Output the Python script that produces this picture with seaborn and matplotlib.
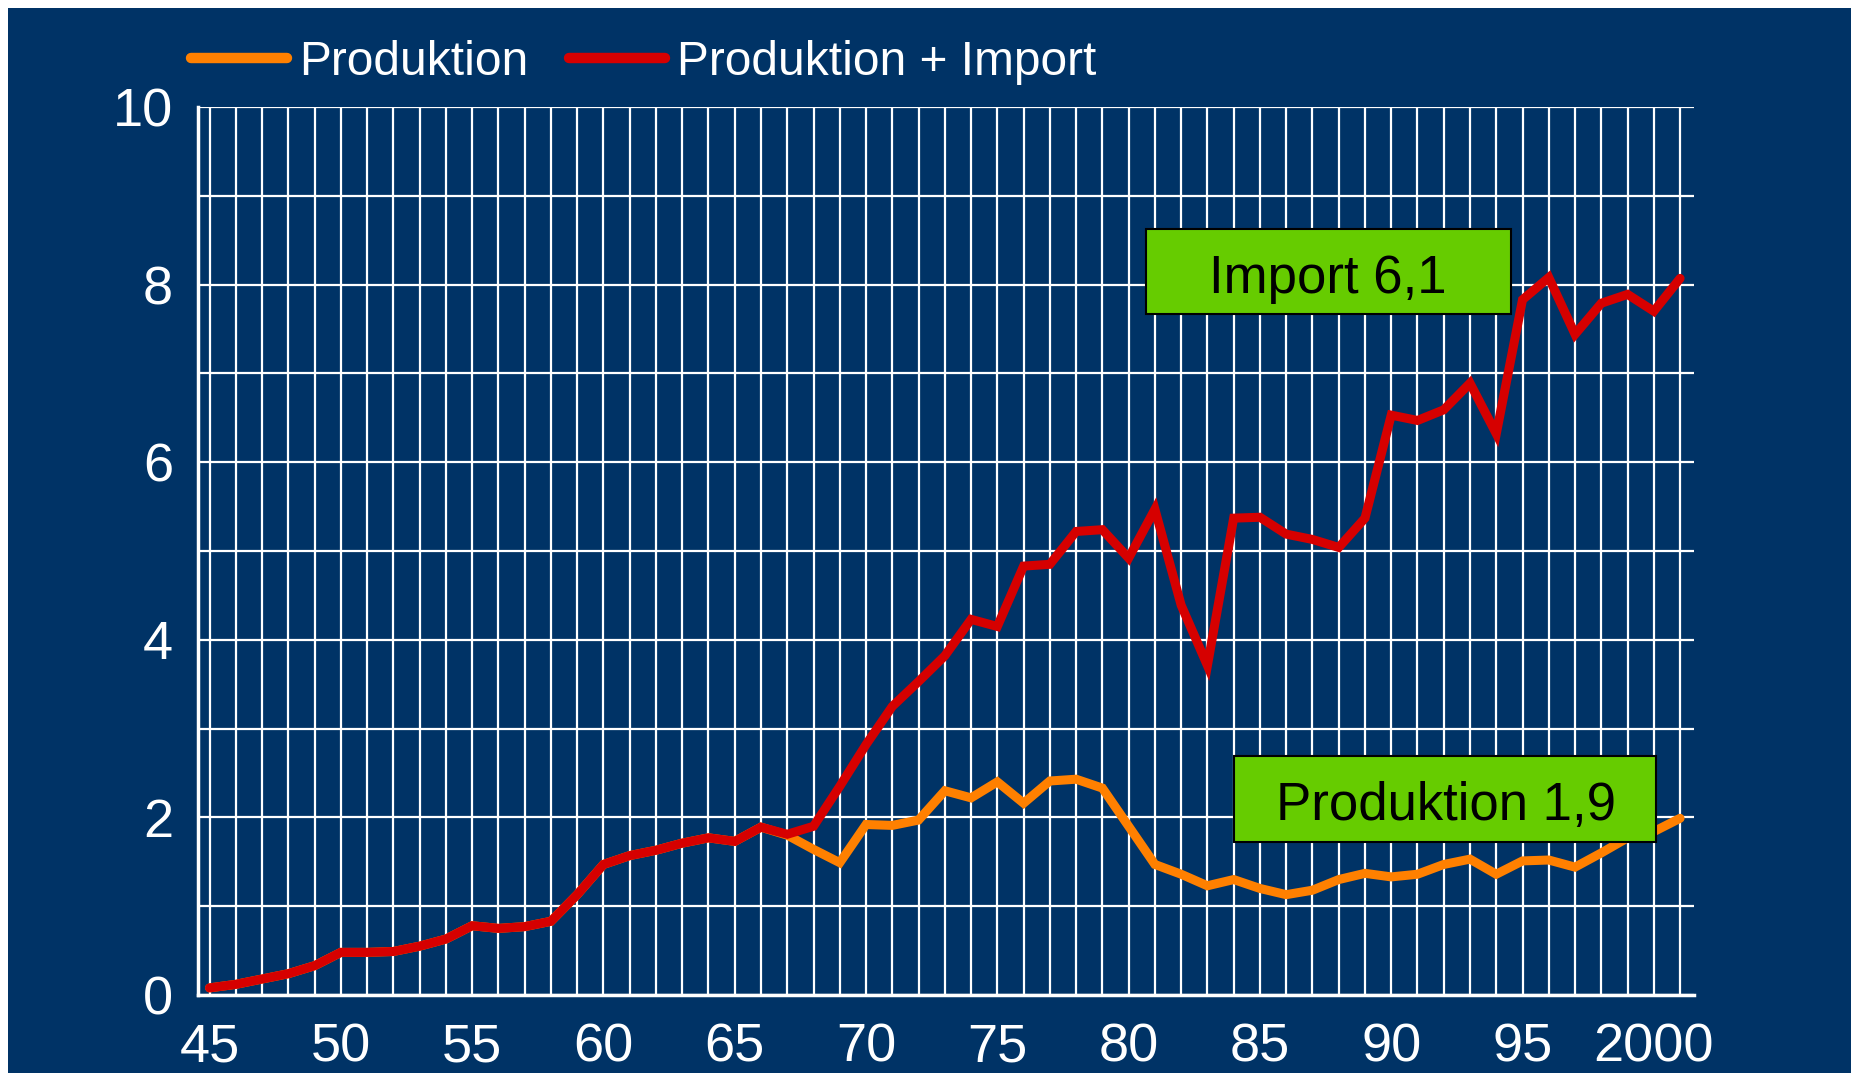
import numpy as np
import pandas as pd
import matplotlib.pyplot as plt
import seaborn as sns
from matplotlib.patches import Rectangle
from matplotlib.ticker import MultipleLocator

# ── Data ──────────────────────────────────────────────────────────────────────
years = list(range(1945, 2002))

produktion_import = [
    0.08, 0.12, 0.18, 0.24, 0.33, 0.48, 0.48, 0.49, 0.55, 0.63,   # 45-54
    0.78, 0.75, 0.77, 0.83, 1.13, 1.47, 1.57, 1.63, 1.71, 1.77,   # 55-64
    1.73, 1.89, 1.81, 1.90, 2.35, 2.82, 3.25, 3.53, 3.82, 4.23,   # 65-74
    4.15, 4.83, 4.85, 5.22, 5.24, 4.92, 5.47, 4.39, 3.71, 5.37,   # 75-84
    5.38, 5.19, 5.13, 5.04, 5.37, 6.53, 6.47, 6.59, 6.89, 6.32,   # 85-94
    7.83, 8.08, 7.44, 7.79, 7.89, 7.70, 8.07,                     # 95-01
]

produktion = [
    0.08, 0.12, 0.18, 0.24, 0.33, 0.48, 0.48, 0.49, 0.55, 0.63,   # 45-54
    0.78, 0.75, 0.77, 0.83, 1.13, 1.47, 1.57, 1.63, 1.71, 1.77,   # 55-64
    1.73, 1.89, 1.80, 1.64, 1.49, 1.92, 1.91, 1.97, 2.30, 2.22,   # 65-74
    2.40, 2.16, 2.41, 2.43, 2.33, 1.90, 1.47, 1.36, 1.23, 1.30,   # 75-84
    1.20, 1.13, 1.18, 1.30, 1.37, 1.33, 1.36, 1.47, 1.53, 1.36,   # 85-94
    1.51, 1.52, 1.44, 1.60, 1.77, 1.84, 1.99,                     # 95-01
]

series_names = ["Produktion", "Produktion + Import"]
series_colors = ["#FF8000", "#D60000"]

xtick_pos = [1945, 1950, 1955, 1960, 1965, 1970, 1975, 1980, 1985, 1990, 1995, 2000]
xtick_labels = ["45", "50", "55", "60", "65", "70", "75", "80", "85", "90", "95", "2000"]
ytick_pos = [0, 2, 4, 6, 8, 10]

box_texts = ["Import 6,1", "Produktion 1,9"]

NAVY = "#003366"
GREEN = "#66CC00"

df = pd.DataFrame({
    "year": years * 2,
    "value": produktion + produktion_import,
    "serie": [series_names[0]] * len(years) + [series_names[1]] * len(years),
})

# ── Plot ──────────────────────────────────────────────────────────────────────
sns.set_style("white")
plt.rcParams["font.family"] = ["Liberation Sans", "DejaVu Sans"]

fig = plt.figure(figsize=(18.51, 10.73), dpi=100)
fig.patch.set_facecolor("white")
fig.add_artist(Rectangle((8 / 1851, 0), 1, 1 - 8 / 1073, transform=fig.transFigure,
                         facecolor=NAVY, edgecolor="none", zorder=-10))

ax = fig.add_axes([198 / 1851, 1 - 995 / 1073, (1694 - 198) / 1851, (995 - 107) / 1073])
ax.set_facecolor(NAVY)

sns.lineplot(data=df, x="year", y="value", hue="serie", hue_order=series_names,
             palette=series_colors, linewidth=6.5, ax=ax, legend=False,
             solid_capstyle="round", solid_joinstyle="miter")

ax.set_xlim(1944.56, 2001.53)
ax.set_ylim(0, 10)

ax.set_xticks(xtick_pos)
ax.set_xticklabels(xtick_labels)
ax.xaxis.set_minor_locator(MultipleLocator(1))
ax.set_yticks(ytick_pos)
ax.yaxis.set_minor_locator(MultipleLocator(1))
ax.tick_params(axis="both", which="both", length=0, colors="white", labelsize=39)
ax.tick_params(axis="x", pad=20)
ax.tick_params(axis="y", pad=18)
ax.grid(True, which="both", color="white", linewidth=1.6)
ax.set_axisbelow(True)
ax.set_xlabel("")
ax.set_ylabel("")

for side in ["top", "right"]:
    ax.spines[side].set_visible(False)
for side in ["left", "bottom"]:
    ax.spines[side].set_color("white")
    ax.spines[side].set_linewidth(2.5)

# ── Annotation boxes ──────────────────────────────────────────────────────────
ax.add_patch(Rectangle((1980.66, 7.67), 1994.55 - 1980.66, 8.63 - 7.67,
                       facecolor=GREEN, edgecolor="black", linewidth=1.5, zorder=5))
ax.text(1987.6, 7.90, box_texts[0], ha="center", va="baseline", fontsize=38,
        color="black", zorder=6)
ax.add_patch(Rectangle((1984.03, 1.72), 2000.1 - 1984.03, 2.69 - 1.72,
                       facecolor=GREEN, edgecolor="black", linewidth=1.5, zorder=5))
ax.text(1992.1, 1.97, box_texts[1], ha="center", va="baseline", fontsize=38,
        color="black", zorder=6)

# ── Legend ────────────────────────────────────────────────────────────────────
handles = [plt.Line2D([], [], color=c, linewidth=7.5, solid_capstyle="round")
           for c in series_colors]
leg = fig.legend(handles, series_names, loc="upper left",
                 bbox_to_anchor=(191 / 1851, 1 - 40 / 1073), ncol=2, frameon=False,
                 fontsize=34.5, handlelength=2.0, handletextpad=0.25,
                 columnspacing=0.85, borderpad=0, borderaxespad=0)
for t in leg.get_texts():
    t.set_color("white")

plt.savefig("out.png", dpi=100, facecolor=fig.get_facecolor())
plt.close()
